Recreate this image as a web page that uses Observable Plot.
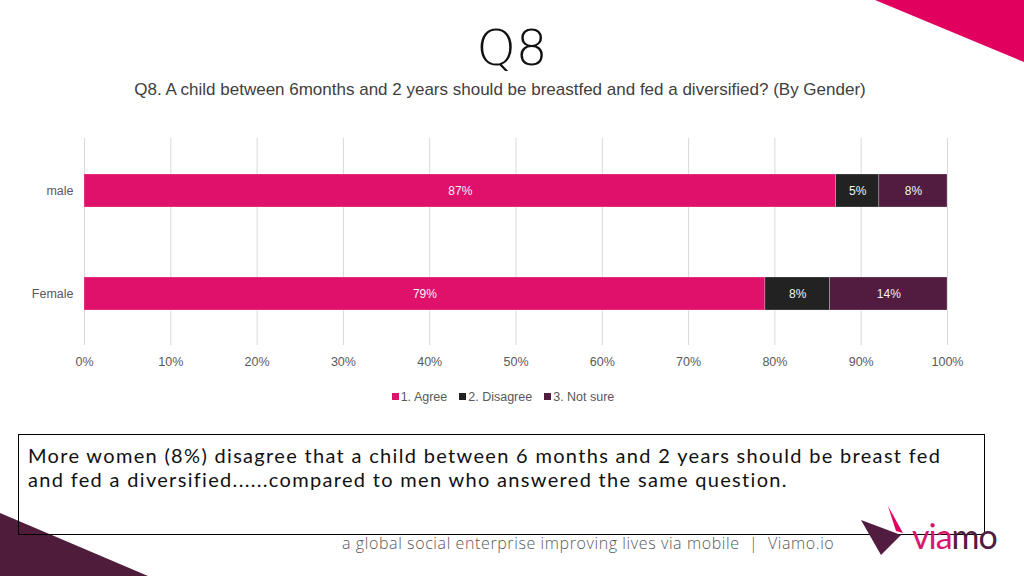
<!DOCTYPE html>
<html>
<head>
<meta charset="utf-8">
<script src="https://cdn.jsdelivr.net/npm/d3@7"></script>
<script src="https://cdn.jsdelivr.net/npm/@observablehq/plot@0.6"></script>
<style>
  html, body { margin: 0; padding: 0; }
  body { width: 1024px; height: 576px; position: relative; overflow: hidden; background: #fff; font-family: "Liberation Sans", Arial, sans-serif; }
  #title { position: absolute; top: 18px; left: 0; width: 1024px; text-align: center; font-family: "DejaVu Sans", sans-serif; font-weight: 200; font-size: 50px; color: #111; line-height: 60px; }
  #subtitle { position: absolute; top: 80px; left: 0; width: 1000px; text-align: center; font-size: 17px; color: #404040; line-height: 20px; }
  #chart { position: absolute; top: 130px; left: 0; }
  #legend { position: absolute; top: 389px; left: 0; width: 1006px; text-align: center; font-size: 12.5px; color: #595959; line-height: 16px; }
  #legend span.item { margin: 0 6px; }
  #legend span.sw { display: inline-block; width: 7px; height: 7px; margin-right: 2px; vertical-align: 1px; }
  #box { position: absolute; left: 18px; top: 434px; width: 967px; height: 101px; border: 1px solid #000; box-sizing: border-box; }
  .boxline { position: absolute; left: 28px; height: 24px; overflow: visible; white-space: nowrap; font-family: Lato, "Open Sans", sans-serif; font-size: 20px; letter-spacing: 1.32px; line-height: 24px; color: #111; }
  #footer { position: absolute; left: 342px; top: 533px; font-family: "Open Sans", sans-serif; font-weight: 300; font-size: 16px; letter-spacing: 0.6px; color: #595959; line-height: 20px; white-space: nowrap; }
  svg.deco { position: absolute; left: 0; top: 0; }
</style>
</head>
<body>
<svg class="deco" width="1024" height="576">
  <polygon points="875,0 1024,0 1024,62" fill="#e2005f"/>
  <polygon points="0,513 0,576 148,576" fill="#4f1c3b"/>
</svg>
<div id="title">Q8</div>
<div id="subtitle">Q8. A child between 6months and 2 years should be breastfed and fed a diversified? (By Gender)</div>
<div id="chart"></div>
<div id="legend"></div>
<div id="box"></div>
<div class="boxline" style="top:443px">More women (8%) disagree that a child between 6 months and 2 years should be breast fed</div>
<div class="boxline" style="top:467px">and fed a diversified......compared to men who answered the same question.</div>
<div id="footer">a global social enterprise improving lives via mobile&nbsp; |&nbsp; Viamo.io</div>
<svg class="deco" width="1024" height="576" style="pointer-events:none">
  <polygon points="861,520 901,535 881,555" fill="#521b40"/>
  <polygon points="888,506 903,533 896,531" fill="#e2005f"/>
  <text x="912" y="549" font-family="Lato, 'Open Sans', sans-serif" font-size="34" letter-spacing="-1"><tspan fill="#d9166f">via</tspan><tspan fill="#521b40">mo</tspan></text>
</svg>
<script>
const genders = ["male", "Female"];
const responses = ["1. Agree", "2. Disagree", "3. Not sure"];
const colors = ["#e0116b", "#222222", "#521b40"];
const maleValues = [87.1, 5.0, 7.9];
const femaleValues = [78.9, 7.5, 13.6];
const xTicks = [0, 10, 20, 30, 40, 50, 60, 70, 80, 90, 100];

const rows = [];
[maleValues, femaleValues].forEach((vals, gi) => {
  vals.forEach((v, ri) => rows.push({gender: genders[gi], response: responses[ri], value: v}));
});

const chart = Plot.plot({
  width: 1024,
  height: 250,
  marginLeft: 84,
  marginRight: 77,
  marginTop: 8,
  marginBottom: 35,
  style: {fontFamily: "'Liberation Sans', Arial, sans-serif", fontSize: "12.5px", color: "#595959", background: "transparent"},
  x: {domain: [0, 100], ticks: xTicks, tickFormat: d => d + "%", tickSize: 0, tickPadding: 12, grid: false, label: null},
  y: {domain: genders, paddingInner: 0.683, paddingOuter: 0.34, tickSize: 0, tickPadding: 11, label: null},
  color: {domain: responses, range: colors},
  marks: [
    Plot.ruleX(xTicks, {stroke: "#d9d9d9", strokeWidth: 1}),
    Plot.barX(rows, Plot.stackX({x: "value", y: "gender", fill: "response", order: responses, stroke: "#ffffff", strokeOpacity: 0.35, strokeWidth: 0.7})),
    Plot.text(rows, Plot.stackX({x: "value", y: "gender", z: "response", order: responses, text: d => Math.round(d.value) + "%", fill: "#f4f4f4", fontSize: 12})),
    Plot.axisX({ticks: xTicks, tickFormat: d => d + "%", tickSize: 0, tickPadding: 12, fill: "#595959"}),
    Plot.axisY({tickSize: 0, tickPadding: 11, fill: "#595959"})
  ]
});
document.getElementById("chart").appendChild(chart);

const legend = document.getElementById("legend");
responses.forEach((r, i) => {
  const item = document.createElement("span");
  item.className = "item";
  const sw = document.createElement("span");
  sw.className = "sw";
  sw.style.background = colors[i];
  item.appendChild(sw);
  item.appendChild(document.createTextNode(r));
  legend.appendChild(item);
});
</script>
</body>
</html>
